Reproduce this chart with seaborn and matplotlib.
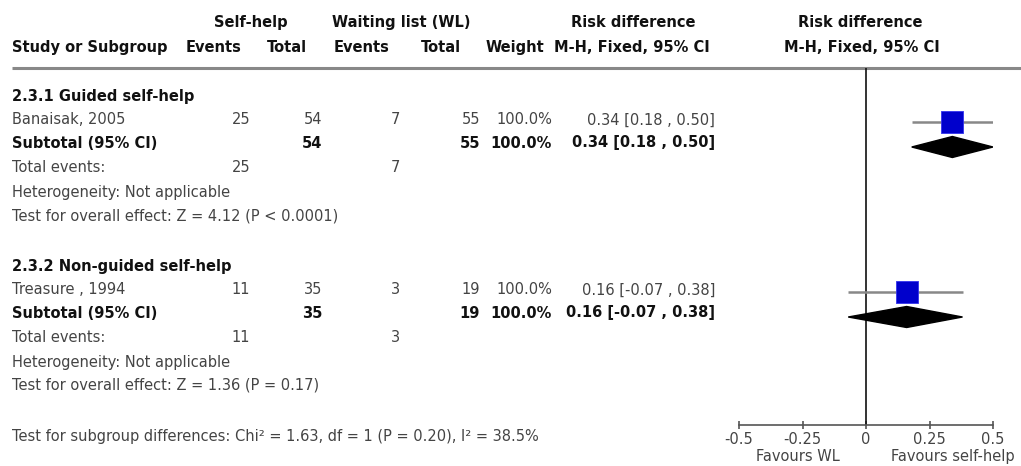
import matplotlib
matplotlib.use('Agg')
import matplotlib.pyplot as plt
import seaborn as sns
import pandas as pd
from matplotlib.patches import Polygon

# данные
studies = ['Banaisak, 2005', 'Treasure , 1994']
subgroups = ['2.3.1 Guided self-help', '2.3.2 Non-guided self-help']
sh_events = [25, 11]
sh_total = [54, 35]
wl_events = [7, 3]
wl_total = [55, 19]
weights = [100.0, 100.0]
rd = [0.34, 0.16]
ci_low = [0.18, -0.07]
ci_high = [0.50, 0.38]
overall_z = ['Z = 4.12 (P < 0.0001)', 'Z = 1.36 (P = 0.17)']
subgroup_test = 'Test for subgroup differences: Chi² = 1.63, df = 1 (P = 0.20), I² = 38.5%'
xticks = [-0.5, -0.25, 0, 0.25, 0.5]
xtick_labels = ['-0.5', '-0.25', '0', '0.25', '0.5']
favours = ['Favours WL', 'Favours self-help']

df = pd.DataFrame({'study': studies, 'rd': rd, 'lo': ci_low, 'hi': ci_high})

# оформление
sns.set_style('white')
plt.rcParams['font.family'] = ['DejaVu Sans']
FS = 10.5
GREY = '#444444'
BLACK = '#111111'

W, H = 1021, 466
fig = plt.figure(figsize=(W / 100, H / 100), dpi=100)

# текстовая ось в пикселях
ax_t = fig.add_axes([0, 0, 1, 1])
ax_t.set_xlim(0, W)
ax_t.set_ylim(H, 0)
ax_t.axis('off')

# колонки (правый край) и строки (базовые линии)
col_x = {'ev1': 250, 'tot1': 322, 'ev2': 400, 'tot2': 480, 'w': 552, 'ci': 715}
group_rows = [[101.5, 124.5, 147.5, 172.5, 196.5, 220.5],
              [270.5, 294.5, 317.5, 342.5, 366.5, 389.5]]


def txt(x, y, s, ha='left', bold=False):
    ax_t.text(x, y, s, ha=ha, va='baseline', fontsize=FS,
              fontweight='bold' if bold else 'normal',
              color=BLACK if bold else GREY)


# шапка
for x, s in [(251, 'Self-help'), (401, 'Waiting list (WL)'), (633, 'Risk difference'),
             (860, 'Risk difference')]:
    txt(x, 27, s, ha='center', bold=True)
txt(12, 52, 'Study or Subgroup', bold=True)
for x, s in [(214, 'Events'), (287, 'Total'), (362, 'Events'), (441, 'Total'),
             (515, 'Weight'), (632, 'M-H, Fixed, 95% CI'), (862, 'M-H, Fixed, 95% CI')]:
    txt(x, 52, s, ha='center', bold=True)
ax_t.plot([12, W], [68, 68], color='#888888', lw=2.2, solid_capstyle='butt')

for i, rows in enumerate(group_rows):
    ci_txt = f'{rd[i]:.2f} [{ci_low[i]:.2f} , {ci_high[i]:.2f}]'
    txt(12, rows[0], subgroups[i], bold=True)
    txt(12, rows[1], studies[i])
    txt(col_x['ev1'], rows[1], str(sh_events[i]), ha='right')
    txt(col_x['tot1'], rows[1], str(sh_total[i]), ha='right')
    txt(col_x['ev2'], rows[1], str(wl_events[i]), ha='right')
    txt(col_x['tot2'], rows[1], str(wl_total[i]), ha='right')
    txt(col_x['w'], rows[1], f'{weights[i]:.1f}%', ha='right')
    txt(col_x['ci'], rows[1], ci_txt, ha='right')
    txt(12, rows[2], 'Subtotal (95% CI)', bold=True)
    txt(col_x['tot1'], rows[2], str(sh_total[i]), ha='right', bold=True)
    txt(col_x['tot2'], rows[2], str(wl_total[i]), ha='right', bold=True)
    txt(col_x['w'], rows[2], f'{weights[i]:.1f}%', ha='right', bold=True)
    txt(col_x['ci'], rows[2], ci_txt, ha='right', bold=True)
    txt(12, rows[3], 'Total events:')
    txt(col_x['ev1'], rows[3], str(sh_events[i]), ha='right')
    txt(col_x['ev2'], rows[3], str(wl_events[i]), ha='right')
    txt(12, rows[4], 'Heterogeneity: Not applicable')
    txt(12, rows[5], 'Test for overall effect: ' + overall_z[i])

txt(12, 441.5, subgroup_test)
txt(798, 461, favours[0], ha='center')
txt(953, 461, favours[1], ha='center')

# forest-ось: -0.5..0.5 -> 739..993 px
ax_f = fig.add_axes([739 / W, 0, 254 / W, 1])
ax_f.set_xlim(-0.5, 0.5)
ax_f.set_ylim(H, 0)
ax_f.patch.set_alpha(0)
for s in ['top', 'left', 'right']:
    ax_f.spines[s].set_visible(False)
ax_f.spines['bottom'].set_position(('data', 425))
ax_f.spines['bottom'].set_bounds(-0.5, 0.5)
ax_f.spines['bottom'].set_color('#555555')
ax_f.spines['bottom'].set_linewidth(1.2)
ax_f.set_yticks([])
ax_f.set_xticks(xticks)
ax_f.set_xticklabels(xtick_labels)
ax_f.tick_params(axis='x', direction='inout', length=6, width=1.2, color='#555555',
                 labelsize=FS, labelcolor=GREY, pad=2, bottom=True)
ax_f.vlines(0, 68, 425, color=BLACK, lw=1.2)

df['y_sq'] = [rows[1] - 2.5 for rows in group_rows]
df['y_dm'] = [rows[2] - 0.5 for rows in group_rows]
ax_f.hlines(df['y_sq'], df['lo'], df['hi'], color='#888888', lw=1.8, zorder=2)
sns.scatterplot(data=df, x='rd', y='y_sq', marker='s', s=245, color='#0000CC',
                edgecolor='#3333ee', linewidth=0.6, ax=ax_f, zorder=3, legend=False)
for _, r in df.iterrows():
    ax_f.add_patch(Polygon([(r.lo, r.y_dm), (r.rd, r.y_dm - 10.5), (r.hi, r.y_dm),
                            (r.rd, r.y_dm + 10.5)], closed=True, color='black', zorder=3))
ax_f.set_xlabel('')
ax_f.set_ylabel('')

fig.savefig('out.png', dpi=100)
